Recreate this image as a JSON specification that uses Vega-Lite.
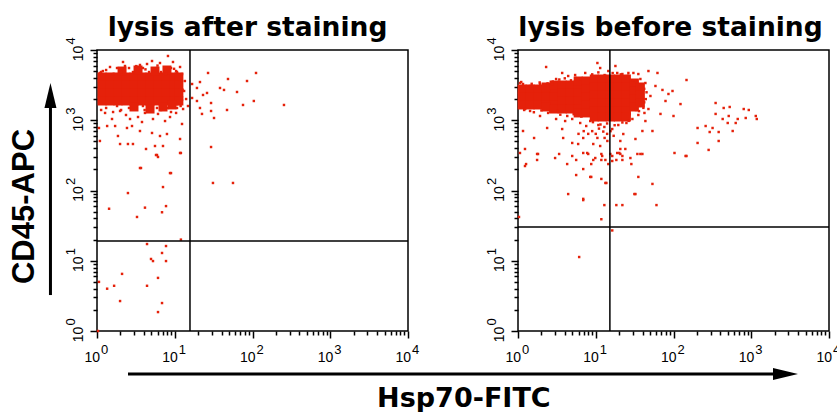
{
  "$schema": "https://vega.github.io/schema/vega-lite/v6.json",
  "padding": {"left": 7, "top": 14, "right": 0, "bottom": 0},
  "background": "white",
  "config": {
    "view": {"stroke": "#000", "strokeWidth": 1.5},
    "axis": {"domain": false, "grid": false, "labelFont": "Liberation Sans", "labelFontSize": 14, "labelColor": "#000", "tickColor": "#000", "tickWidth": 1.5, "labelFlush": false, "labelOverlap": false, "labelBound": false, "titleColor": "#000"},
    "title": {"color": "#000"}
  },
  "title": {"text": "Hsp70-FITC", "orient": "bottom", "anchor": "middle", "font": "DejaVu Sans", "fontSize": 27, "fontWeight": "bold", "baseline": "alphabetic", "offset": 26, "dx": 40},
  "datasets": {
    "coreL": [
      {"fitc":1.16,"apc":4130},{"fitc":1.47,"apc":4130},{"fitc":1.86,"apc":4130},{"fitc":2.36,"apc":4130},{"fitc":2.99,"apc":4130},{"fitc":3.79,"apc":4130},{"fitc":4.81,"apc":4130},{"fitc":6.09,"apc":4130},{"fitc":7.72,"apc":4130},{"fitc":9.78,"apc":4130},{"fitc":11.3,"apc":4130},
      {"fitc":1.16,"apc":3175},{"fitc":1.47,"apc":3175},{"fitc":1.86,"apc":3175},{"fitc":2.36,"apc":3175},{"fitc":2.99,"apc":3175},{"fitc":3.79,"apc":3175},{"fitc":4.81,"apc":3175},{"fitc":6.09,"apc":3175},{"fitc":7.72,"apc":3175},{"fitc":9.78,"apc":3175},{"fitc":11.3,"apc":3175},
      {"fitc":1.16,"apc":2445},{"fitc":1.47,"apc":2445},{"fitc":1.86,"apc":2445},{"fitc":2.36,"apc":2445},{"fitc":2.99,"apc":2445},{"fitc":3.79,"apc":2445},{"fitc":4.81,"apc":2445},{"fitc":6.09,"apc":2445},{"fitc":7.72,"apc":2445},{"fitc":9.78,"apc":2445},{"fitc":11.3,"apc":2445},
      {"fitc":1.16,"apc":1880},{"fitc":1.47,"apc":1880},{"fitc":1.86,"apc":1880},{"fitc":2.36,"apc":1880},{"fitc":2.99,"apc":1880},{"fitc":3.79,"apc":1880},{"fitc":4.81,"apc":1880},{"fitc":6.09,"apc":1880},{"fitc":7.72,"apc":1880},{"fitc":9.78,"apc":1880},{"fitc":11.3,"apc":1880},
      {"fitc":2.10,"apc":5020},{"fitc":3.37,"apc":5190},{"fitc":5.57,"apc":5020},{"fitc":7.94,"apc":5190},{"fitc":2.99,"apc":1545},{"fitc":4.81,"apc":1445},{"fitc":7.06,"apc":1545},{"fitc":9.22,"apc":1650}
    ],
    "evL": [
      {"fitc":8.18,"apc":8220},{"fitc":2.16,"apc":6750},{"fitc":2.29,"apc":5920},{"fitc":6.46,"apc":6530},{"fitc":9.49,"apc":6750},{"fitc":4.40,"apc":6320},{"fitc":1.09,"apc":4710},{"fitc":1.19,"apc":5020},{"fitc":1.47,"apc":5730},{"fitc":3.57,"apc":6120},{"fitc":5.10,"apc":6970},{"fitc":11.7,"apc":5730},{"fitc":10.4,"apc":5020},
      {"fitc":1.13,"apc":4860},{"fitc":1.31,"apc":5190},{"fitc":1.61,"apc":4550},{"fitc":1.81,"apc":5540},{"fitc":2.04,"apc":4860},{"fitc":2.58,"apc":5540},{"fitc":2.90,"apc":4860},{"fitc":3.90,"apc":5540},{"fitc":4.67,"apc":4860},{"fitc":5.91,"apc":5540},{"fitc":6.65,"apc":4860},{"fitc":7.72,"apc":4550},{"fitc":8.95,"apc":5540},{"fitc":10.7,"apc":4860},{"fitc":12.4,"apc":4550},{"fitc":3.2,"apc":5900},{"fitc":6.0,"apc":6000},{"fitc":4.2,"apc":5300},{"fitc":9.8,"apc":5400},
      {"fitc":1.13,"apc":1400},{"fitc":1.31,"apc":1495},{"fitc":1.61,"apc":1310},{"fitc":1.81,"apc":1595},{"fitc":2.04,"apc":1400},{"fitc":2.58,"apc":1495},{"fitc":3.90,"apc":1595},{"fitc":4.1,"apc":1400},{"fitc":5.91,"apc":1495},{"fitc":6.65,"apc":1400},{"fitc":8.1,"apc":1495},{"fitc":8.95,"apc":1310},{"fitc":10.7,"apc":1495},{"fitc":11.9,"apc":1595},{"fitc":12.4,"apc":1960},{"fitc":12.6,"apc":2700},{"fitc":12.3,"apc":3600},
      {"fitc":13.5,"apc":3620},{"fitc":13.2,"apc":2610},{"fitc":14.0,"apc":2005},{"fitc":12.8,"apc":1445},
      {"fitc":26.8,"apc":4710},{"fitc":48.4,"apc":3865},{"fitc":111,"apc":4710},{"fitc":85.0,"apc":3620},{"fitc":38.2,"apc":2880},{"fitc":43.0,"apc":2700},{"fitc":63.2,"apc":2525},{"fitc":21.1,"apc":3500},{"fitc":16.7,"apc":3280},{"fitc":19.3,"apc":2880},{"fitc":23.1,"apc":2290},{"fitc":26.0,"apc":2445},{"fitc":19.3,"apc":1880},{"fitc":21.1,"apc":1495},{"fitc":22.4,"apc":1230},{"fitc":29.3,"apc":1760},{"fitc":29.3,"apc":1355},{"fitc":32.0,"apc":1077},{"fitc":47.0,"apc":1400},{"fitc":75.5,"apc":1650},{"fitc":104,"apc":1880},{"fitc":254,"apc":1650},{"fitc":16.7,"apc":2075},{"fitc":14.8,"apc":1595},{"fitc":29.3,"apc":416},{"fitc":31.0,"apc":128},{"fitc":56.1,"apc":128},
      {"fitc":12.4,"apc":885},{"fitc":11.7,"apc":541},{"fitc":12.0,"apc":342},
      {"fitc":1.86,"apc":597},{"fitc":1.98,"apc":459},{"fitc":2.50,"apc":459},{"fitc":2.90,"apc":459},{"fitc":4.27,"apc":390},{"fitc":5.57,"apc":430},{"fitc":5.91,"apc":320},{"fitc":7.06,"apc":430},{"fitc":1.09,"apc":507},{"fitc":1.06,"apc":776},{"fitc":1.35,"apc":828},{"fitc":1.71,"apc":828},{"fitc":2.43,"apc":776},{"fitc":2.82,"apc":828},{"fitc":3.57,"apc":703},{"fitc":5.10,"apc":659},{"fitc":6.46,"apc":597},{"fitc":7.94,"apc":637},{"fitc":3.57,"apc":209},{"fitc":8.69,"apc":177},{"fitc":7.06,"apc":112},{"fitc":2.50,"apc":92},
      {"fitc":1.27,"apc":1270},{"fitc":1.56,"apc":1042},{"fitc":1.98,"apc":1355},{"fitc":2.36,"apc":1188},{"fitc":3.37,"apc":1112},{"fitc":4.14,"apc":1270},{"fitc":5.25,"apc":1042},{"fitc":6.09,"apc":1230},{"fitc":7.50,"apc":975},{"fitc":8.69,"apc":1112},{"fitc":10.4,"apc":1270},{"fitc":3.79,"apc":944},{"fitc":2.66,"apc":1042},
      {"fitc":5.74,"apc":320},{"fitc":6.09,"apc":300},{"fitc":11.7,"apc":342},{"fitc":3.68,"apc":209},{"fitc":8.95,"apc":177},{"fitc":1.43,"apc":55},{"fitc":4.14,"apc":57},{"fitc":7.72,"apc":60},{"fitc":6.86,"apc":49},{"fitc":3.27,"apc":42},{"fitc":12.0,"apc":20},{"fitc":4.40,"apc":17.3},{"fitc":7.72,"apc":16.2},{"fitc":6.86,"apc":12.9},{"fitc":4.95,"apc":10.6},{"fitc":5.25,"apc":9.9},{"fitc":7.72,"apc":9.9},{"fitc":2.10,"apc":6.5},{"fitc":1.06,"apc":5.0},{"fitc":1.35,"apc":4.0},{"fitc":1.66,"apc":4.4},{"fitc":4.40,"apc":4.4},{"fitc":6.09,"apc":5.7},{"fitc":1.98,"apc":2.67},{"fitc":6.86,"apc":2.50},{"fitc":6.09,"apc":1.86},{"fitc":1.03,"apc":1.0}
    ],
    "coreR": [
      {"fitc":1.13,"apc":2785},{"fitc":1.43,"apc":2785},{"fitc":1.81,"apc":2785},{"fitc":2.30,"apc":2785},{"fitc":2.91,"apc":2785},
      {"fitc":1.13,"apc":2140},{"fitc":1.43,"apc":2140},{"fitc":1.81,"apc":2140},{"fitc":2.30,"apc":2140},{"fitc":2.91,"apc":2140},
      {"fitc":1.13,"apc":1650},{"fitc":1.43,"apc":1650},{"fitc":1.81,"apc":1650},{"fitc":2.30,"apc":1650},{"fitc":2.91,"apc":1650},
      {"fitc":2.30,"apc":2975},{"fitc":2.91,"apc":3175},{"fitc":2.30,"apc":1545},{"fitc":2.91,"apc":1445},
      {"fitc":3.70,"apc":3175},{"fitc":4.69,"apc":3175},{"fitc":5.94,"apc":3175},
      {"fitc":3.70,"apc":2445},{"fitc":4.69,"apc":2445},{"fitc":5.94,"apc":2445},
      {"fitc":3.70,"apc":1880},{"fitc":4.69,"apc":1880},{"fitc":5.94,"apc":1880},
      {"fitc":3.70,"apc":1445},{"fitc":4.69,"apc":1445},{"fitc":5.94,"apc":1445},
      {"fitc":5.94,"apc":3620},{"fitc":5.94,"apc":1270},
      {"fitc":7.54,"apc":3620},{"fitc":7.54,"apc":2785},{"fitc":7.54,"apc":2140},{"fitc":7.54,"apc":1650},{"fitc":7.54,"apc":1270},
      {"fitc":9.57,"apc":3865},{"fitc":12.1,"apc":3865},{"fitc":15.4,"apc":3865},{"fitc":19.5,"apc":3865},{"fitc":24.8,"apc":3865},
      {"fitc":9.57,"apc":2975},{"fitc":12.1,"apc":2975},{"fitc":15.4,"apc":2975},{"fitc":19.5,"apc":2975},{"fitc":24.8,"apc":2975},
      {"fitc":9.57,"apc":2290},{"fitc":12.1,"apc":2290},{"fitc":15.4,"apc":2290},{"fitc":19.5,"apc":2290},{"fitc":24.8,"apc":2290},
      {"fitc":9.57,"apc":1760},{"fitc":12.1,"apc":1760},{"fitc":15.4,"apc":1760},{"fitc":19.5,"apc":1760},{"fitc":24.8,"apc":1760},
      {"fitc":9.57,"apc":1355},{"fitc":12.1,"apc":1355},{"fitc":15.4,"apc":1355},{"fitc":19.5,"apc":1355},{"fitc":24.8,"apc":1355},
      {"fitc":9.57,"apc":1112},{"fitc":12.1,"apc":1112},{"fitc":15.4,"apc":1112},{"fitc":19.5,"apc":1112},{"fitc":24.8,"apc":1112},
      {"fitc":31.4,"apc":3390},{"fitc":31.4,"apc":2610},{"fitc":31.4,"apc":2005},{"fitc":31.4,"apc":1545},
      {"fitc":37.5,"apc":2975},{"fitc":37.5,"apc":2290},{"fitc":37.5,"apc":1760}
    ],
    "evR": [
      {"fitc":2.30,"apc":5730},{"fitc":10.5,"apc":6530},{"fitc":11.4,"apc":5540},{"fitc":18.9,"apc":4710},{"fitc":22.0,"apc":4550},{"fitc":26.3,"apc":4710},{"fitc":35.3,"apc":4550},{"fitc":30.5,"apc":4710},{"fitc":62.2,"apc":4710},{"fitc":47.6,"apc":5020},{"fitc":3.70,"apc":4710},{"fitc":4.42,"apc":4265},{"fitc":1.06,"apc":3390},{"fitc":1.16,"apc":3280},{"fitc":1.43,"apc":3075},{"fitc":1.92,"apc":3280},{"fitc":2.23,"apc":2880},{"fitc":2.75,"apc":3280},{"fitc":3.09,"apc":3865},{"fitc":5.43,"apc":4405},{"fitc":7.32,"apc":4710},{"fitc":14.5,"apc":5020},{"fitc":17.9,"apc":5920},{"fitc":37.5,"apc":3865},{"fitc":43.5,"apc":3390},
      {"fitc":1.1,"apc":3500},{"fitc":1.5,"apc":3300},{"fitc":1.9,"apc":3450},{"fitc":2.4,"apc":3350},{"fitc":2.8,"apc":3550},{"fitc":3.4,"apc":3800},{"fitc":4.0,"apc":3950},{"fitc":4.8,"apc":3700},{"fitc":5.5,"apc":4000},{"fitc":6.4,"apc":3850},{"fitc":9.0,"apc":4500},{"fitc":10.8,"apc":4800},{"fitc":13.0,"apc":4400},{"fitc":16.5,"apc":4700},{"fitc":21,"apc":4500},{"fitc":26,"apc":4300},{"fitc":30,"apc":3700},{"fitc":34,"apc":3500},{"fitc":39,"apc":3200},{"fitc":42,"apc":2800},
      {"fitc":1.2,"apc":1400},{"fitc":1.6,"apc":1300},{"fitc":2.0,"apc":1380},{"fitc":2.6,"apc":1320},{"fitc":3.2,"apc":1360},{"fitc":3.5,"apc":1200},{"fitc":4.3,"apc":1150},{"fitc":5.2,"apc":1220},{"fitc":6.5,"apc":1130},{"fitc":9.2,"apc":940},{"fitc":11.5,"apc":870},{"fitc":14.0,"apc":900},{"fitc":17.5,"apc":850},{"fitc":22,"apc":930},{"fitc":26.5,"apc":980},{"fitc":33,"apc":1400},{"fitc":36,"apc":1350},{"fitc":41,"apc":1500},{"fitc":44,"apc":2000},{"fitc":45,"apc":2500},{"fitc":40,"apc":3100},{"fitc":42,"apc":1800},
      {"fitc":123,"apc":1700},{"fitc":97.1,"apc":2610},{"fitc":86.1,"apc":2365},{"fitc":78.9,"apc":1880},{"fitc":72.1,"apc":2700},{"fitc":68.0,"apc":1230},{"fitc":100,"apc":1150},{"fitc":53.6,"apc":703},{"fitc":39.8,"apc":703},{"fitc":50.5,"apc":2215},{"fitc":58.6,"apc":3075},{"fitc":47.6,"apc":1445},{"fitc":43.5,"apc":975},{"fitc":147,"apc":3740},
      {"fitc":348,"apc":1760},{"fitc":442,"apc":1495},{"fitc":528,"apc":1545},{"fitc":800,"apc":1445},{"fitc":929,"apc":1400},{"fitc":1143,"apc":1150},{"fitc":1178,"apc":1042},{"fitc":849,"apc":1077},{"fitc":670,"apc":1042},{"fitc":631,"apc":914},{"fitc":513,"apc":1150},{"fitc":429,"apc":1042},{"fitc":348,"apc":1230},{"fitc":498,"apc":914},{"fitc":577,"apc":703},{"fitc":381,"apc":680},{"fitc":381,"apc":507},{"fitc":318,"apc":776},{"fitc":292,"apc":680},{"fitc":259,"apc":828},{"fitc":204,"apc":776},{"fitc":204,"apc":475},{"fitc":283,"apc":378},{"fitc":143,"apc":310},{"fitc":103,"apc":342},
      {"fitc":32.4,"apc":541},{"fitc":22.6,"apc":637},{"fitc":20.7,"apc":390},{"fitc":27.9,"apc":290},{"fitc":37.5,"apc":331},{"fitc":20.7,"apc":331},{"fitc":35.3,"apc":156},{"fitc":53.6,"apc":124},{"fitc":32.4,"apc":89},{"fitc":13.3,"apc":128},{"fitc":14.5,"apc":238},{"fitc":8.49,"apc":156},{"fitc":6.90,"apc":76},{"fitc":4.42,"apc":89},{"fitc":5.60,"apc":166},{"fitc":4.29,"apc":238},{"fitc":3.00,"apc":290},{"fitc":1.76,"apc":331},{"fitc":1.27,"apc":238},{"fitc":1.23,"apc":390},{"fitc":1.06,"apc":342},{"fitc":1.16,"apc":703},{"fitc":1.61,"apc":559},{"fitc":2.37,"apc":776},{"fitc":3.70,"apc":750},{"fitc":3.81,"apc":559},{"fitc":4.98,"apc":475},{"fitc":5.94,"apc":459},{"fitc":6.90,"apc":559},{"fitc":9.29,"apc":459},{"fitc":11.4,"apc":430},{"fitc":14.1,"apc":507},{"fitc":9.86,"apc":290},{"fitc":8.00,"apc":331},{"fitc":12.1,"apc":310},{"fitc":15.4,"apc":331},{"fitc":16.3,"apc":263},{"fitc":18.9,"apc":342},{"fitc":20.7,"apc":507},{"fitc":24.0,"apc":390},{"fitc":1.81,"apc":331},{"fitc":3.38,"apc":331},{"fitc":4.98,"apc":310},{"fitc":5.60,"apc":272},{"fitc":6.90,"apc":342},{"fitc":7.76,"apc":342},{"fitc":8.75,"apc":238},{"fitc":9.29,"apc":272},{"fitc":11.8,"apc":331},{"fitc":11.8,"apc":272},{"fitc":13.3,"apc":272},{"fitc":16.3,"apc":310},{"fitc":18.4,"apc":272},{"fitc":20.1,"apc":342},{"fitc":22.0,"apc":310},{"fitc":22.0,"apc":272},{"fitc":28.7,"apc":238},{"fitc":34.3,"apc":331},{"fitc":39.8,"apc":331},{"fitc":147,"apc":310},{"fitc":1.23,"apc":223},{"fitc":1.76,"apc":272},{"fitc":6.90,"apc":202},{"fitc":8.75,"apc":156},{"fitc":11.8,"apc":146},{"fitc":13.7,"apc":128},{"fitc":6.90,"apc":73},{"fitc":12.9,"apc":62},{"fitc":18.4,"apc":62},{"fitc":22.0,"apc":62},{"fitc":31.4,"apc":89},{"fitc":60.4,"apc":62},{"fitc":11.8,"apc":39},{"fitc":1.03,"apc":42},{"fitc":16.3,"apc":27},{"fitc":6.12,"apc":11.3},
      {"fitc":1.92,"apc":1150},{"fitc":2.44,"apc":1270},{"fitc":3.09,"apc":1042},{"fitc":4.04,"apc":975},{"fitc":4.98,"apc":1042},{"fitc":6.31,"apc":914},{"fitc":7.54,"apc":828},{"fitc":8.49,"apc":975},{"fitc":10.8,"apc":855},{"fitc":12.9,"apc":802},{"fitc":16.3,"apc":750},{"fitc":19.5,"apc":855},{"fitc":24.8,"apc":914},{"fitc":29.6,"apc":1042},{"fitc":35.3,"apc":1188},{"fitc":42.3,"apc":1270},{"fitc":1.43,"apc":1355},{"fitc":1.23,"apc":1445},
      {"fitc":9.0,"apc":700},{"fitc":10.0,"apc":640},{"fitc":11.0,"apc":760},{"fitc":12.5,"apc":690},{"fitc":14.0,"apc":640},{"fitc":15.5,"apc":700},{"fitc":13.0,"apc":560},{"fitc":10.5,"apc":560},{"fitc":17.0,"apc":600},{"fitc":8.0,"apc":640},{"fitc":7.0,"apc":700},{"fitc":6.0,"apc":640}
    ]
  },
  "bounds": "flush",
  "spacing": 110,
  "hconcat": [
    {
      "width": 311, "height": 281,
      "title": {"text": "lysis after staining", "font": "DejaVu Sans", "fontSize": 26.5, "fontWeight": "bold", "frame": "group", "anchor": "middle", "baseline": "alphabetic", "offset": -26, "dx": -5},
      "resolve": {"axis": {"x": "independent", "y": "independent"}},
      "layer": [
        {
          "data": {"name": "coreL"},
          "mark": {"type": "point", "shape": "square", "filled": true, "size": 81, "color": "#e5210a", "strokeWidth": 0, "opacity": 1},
          "encoding": {
            "x": {"field": "fitc", "type": "quantitative", "scale": {"type": "log", "domain": [1, 10000], "nice": false},
              "axis": {"orient": "bottom", "title": null, "values": [1,2,3,4,5,6,7,8,9,10,20,30,40,50,60,70,80,90,100,200,300,400,500,600,700,800,900,1000,2000,3000,4000,5000,6000,7000,8000,9000,10000],
                "labelExpr": "indexof([1,10,100,1000,10000], datum.value) >= 0 ? '10' : ''",
                "tickSize": {"condition": {"test": "indexof([1,10,100,1000,10000], datum.value) >= 0", "value": 7}, "value": 4},
                "labelAlign": "right", "labelOffset": 2.5, "labelPadding": 12, "labelBaseline": "top"}},
            "y": {"field": "apc", "type": "quantitative", "scale": {"type": "log", "domain": [1, 10000], "nice": false},
              "axis": {"orient": "left", "title": null, "values": [1,2,3,4,5,6,7,8,9,10,20,30,40,50,60,70,80,90,100,200,300,400,500,600,700,800,900,1000,2000,3000,4000,5000,6000,7000,8000,9000,10000],
                "labelExpr": "indexof([1,10,100,1000,10000], datum.value) >= 0 ? '10' : ''",
                "tickSize": {"condition": {"test": "indexof([1,10,100,1000,10000], datum.value) >= 0", "value": 7}, "value": 4},
                "labelAngle": 270, "labelAlign": "center", "labelBaseline": "bottom", "labelPadding": 5, "labelOffset": 3}}
          }
        },
        {
          "data": {"name": "evL"},
          "mark": {"type": "point", "shape": "square", "filled": true, "size": 6, "color": "#e5210a", "strokeWidth": 0, "opacity": 1},
          "encoding": {
            "x": {"field": "fitc", "type": "quantitative", "scale": {"type": "log", "domain": [1, 10000], "nice": false},
              "axis": {"orient": "bottom", "title": null, "values": [1,10,100,1000,10000], "labelExpr": "format(log(datum.value)/LN10, '.0f')", "ticks": false, "tickSize": 0, "labelAlign": "left", "labelOffset": 3.5, "labelPadding": 12, "labelBaseline": "top", "labelFontSize": 13}},
            "y": {"field": "apc", "type": "quantitative", "scale": {"type": "log", "domain": [1, 10000], "nice": false},
              "axis": {"orient": "left", "title": "CD45-APC", "values": [1,10,100,1000,10000], "labelExpr": "format(log(datum.value)/LN10, '.0f')", "ticks": false, "tickSize": 0, "labelAngle": 270, "labelAlign": "center", "labelBaseline": "bottom", "labelPadding": 20, "labelOffset": -9.5, "labelFontSize": 13,
                "titleFont": "Liberation Sans", "titleFontSize": 31, "titleFontWeight": "bold", "titlePadding": 24, "titleY": 156}}
          }
        },
        {
          "data": {"values": [{"fitc": 15.7}]},
          "mark": {"type": "rule", "color": "#000", "strokeWidth": 1.5},
          "encoding": {"x": {"field": "fitc", "type": "quantitative", "scale": {"type": "log", "domain": [1, 10000], "nice": false}, "axis": null}}
        },
        {
          "data": {"values": [{"apc": 19.1}]},
          "mark": {"type": "rule", "color": "#000", "strokeWidth": 1.5},
          "encoding": {"y": {"field": "apc", "type": "quantitative", "scale": {"type": "log", "domain": [1, 10000], "nice": false}, "axis": null}}
        },
        {
          "data": {"values": [{"fitc": 0.252, "apc": 3.25, "apc2": 1880}]},
          "mark": {"type": "rule", "color": "#000", "strokeWidth": 3},
          "encoding": {
            "x": {"field": "fitc", "type": "quantitative", "scale": {"type": "log", "domain": [1, 10000], "nice": false}, "axis": null},
            "y": {"field": "apc", "type": "quantitative", "scale": {"type": "log", "domain": [1, 10000], "nice": false}, "axis": null},
            "y2": {"field": "apc2"}
          }
        },
        {
          "data": {"values": [{"fitc": 0.252, "apc": 2250}]},
          "mark": {"type": "point", "shape": "M-0.48,1L0,-1L0.48,1Z", "size": 625, "filled": true, "color": "#000", "strokeWidth": 0, "opacity": 1},
          "encoding": {
            "x": {"field": "fitc", "type": "quantitative", "scale": {"type": "log", "domain": [1, 10000], "nice": false}, "axis": null},
            "y": {"field": "apc", "type": "quantitative", "scale": {"type": "log", "domain": [1, 10000], "nice": false}, "axis": null}
          }
        },
        {
          "data": {"values": [{"fitc": 2.505, "fitc2": 525000000, "apc": 0.2443}]},
          "mark": {"type": "rule", "color": "#000", "strokeWidth": 3},
          "encoding": {
            "x": {"field": "fitc", "type": "quantitative", "scale": {"type": "log", "domain": [1, 10000], "nice": false}, "axis": null},
            "x2": {"field": "fitc2"},
            "y": {"field": "apc", "type": "quantitative", "scale": {"type": "log", "domain": [1, 10000], "nice": false}, "axis": null}
          }
        },
        {
          "data": {"values": [{"fitc": 717000000, "apc": 0.2443}]},
          "mark": {"type": "point", "shape": "M-1,-0.48L1,0L-1,0.48Z", "size": 625, "filled": true, "color": "#000", "strokeWidth": 0, "opacity": 1},
          "encoding": {
            "x": {"field": "fitc", "type": "quantitative", "scale": {"type": "log", "domain": [1, 10000], "nice": false}, "axis": null},
            "y": {"field": "apc", "type": "quantitative", "scale": {"type": "log", "domain": [1, 10000], "nice": false}, "axis": null}
          }
        }
      ]
    },
    {
      "width": 311, "height": 281,
      "title": {"text": "lysis before staining", "font": "DejaVu Sans", "fontSize": 26.5, "fontWeight": "bold", "frame": "group", "anchor": "middle", "baseline": "alphabetic", "offset": -26, "dx": -3},
      "resolve": {"axis": {"x": "independent", "y": "independent"}},
      "layer": [
        {
          "data": {"name": "coreR"},
          "mark": {"type": "point", "shape": "square", "filled": true, "size": 81, "color": "#e5210a", "strokeWidth": 0, "opacity": 1},
          "encoding": {
            "x": {"field": "fitc", "type": "quantitative", "scale": {"type": "log", "domain": [1, 10000], "nice": false},
              "axis": {"orient": "bottom", "title": null, "values": [1,2,3,4,5,6,7,8,9,10,20,30,40,50,60,70,80,90,100,200,300,400,500,600,700,800,900,1000,2000,3000,4000,5000,6000,7000,8000,9000,10000],
                "labelExpr": "indexof([1,10,100,1000,10000], datum.value) >= 0 ? '10' : ''",
                "tickSize": {"condition": {"test": "indexof([1,10,100,1000,10000], datum.value) >= 0", "value": 7}, "value": 4},
                "labelAlign": "right", "labelOffset": 2.5, "labelPadding": 12, "labelBaseline": "top"}},
            "y": {"field": "apc", "type": "quantitative", "scale": {"type": "log", "domain": [1, 10000], "nice": false},
              "axis": {"orient": "left", "title": null, "values": [1,2,3,4,5,6,7,8,9,10,20,30,40,50,60,70,80,90,100,200,300,400,500,600,700,800,900,1000,2000,3000,4000,5000,6000,7000,8000,9000,10000],
                "labelExpr": "indexof([1,10,100,1000,10000], datum.value) >= 0 ? '10' : ''",
                "tickSize": {"condition": {"test": "indexof([1,10,100,1000,10000], datum.value) >= 0", "value": 7}, "value": 4},
                "labelAngle": 270, "labelAlign": "center", "labelBaseline": "bottom", "labelPadding": 5, "labelOffset": 3}}
          }
        },
        {
          "data": {"name": "evR"},
          "mark": {"type": "point", "shape": "square", "filled": true, "size": 6, "color": "#e5210a", "strokeWidth": 0, "opacity": 1},
          "encoding": {
            "x": {"field": "fitc", "type": "quantitative", "scale": {"type": "log", "domain": [1, 10000], "nice": false},
              "axis": {"orient": "bottom", "title": null, "values": [1,10,100,1000,10000], "labelExpr": "format(log(datum.value)/LN10, '.0f')", "ticks": false, "tickSize": 0, "labelAlign": "left", "labelOffset": 3.5, "labelPadding": 12, "labelBaseline": "top", "labelFontSize": 13}},
            "y": {"field": "apc", "type": "quantitative", "scale": {"type": "log", "domain": [1, 10000], "nice": false},
              "axis": {"orient": "left", "title": null, "values": [1,10,100,1000,10000], "labelExpr": "format(log(datum.value)/LN10, '.0f')", "ticks": false, "tickSize": 0, "labelAngle": 270, "labelAlign": "center", "labelBaseline": "bottom", "labelPadding": 20, "labelOffset": -9.5, "labelFontSize": 13}}
          }
        },
        {
          "data": {"values": [{"fitc": 15.2}]},
          "mark": {"type": "rule", "color": "#000", "strokeWidth": 1.5},
          "encoding": {"x": {"field": "fitc", "type": "quantitative", "scale": {"type": "log", "domain": [1, 10000], "nice": false}, "axis": null}}
        },
        {
          "data": {"values": [{"apc": 30.3}]},
          "mark": {"type": "rule", "color": "#000", "strokeWidth": 1.5},
          "encoding": {"y": {"field": "apc", "type": "quantitative", "scale": {"type": "log", "domain": [1, 10000], "nice": false}, "axis": null}}
        }
      ]
    }
  ]
}
